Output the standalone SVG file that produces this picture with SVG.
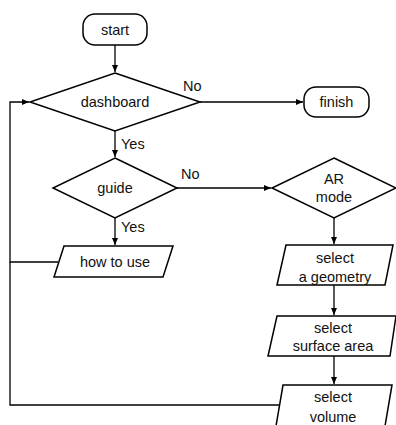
<svg xmlns="http://www.w3.org/2000/svg" width="396" height="425" viewBox="0 0 396 425">
<defs>
<marker id="ah" markerWidth="7" markerHeight="6" refX="7" refY="3" orient="auto" markerUnits="userSpaceOnUse">
<path d="M0,0 L7,3 L0,6 Z" fill="#000"/>
</marker>
<style>
.n{fill:#fff;stroke:#000;stroke-width:1.5}
.c{fill:none;stroke:#000;stroke-width:1.3}
.t{font-family:"Liberation Sans",Arial,sans-serif;font-size:14.5px;fill:#111;text-anchor:middle;dominant-baseline:central}
.l{font-family:"Liberation Sans",Arial,sans-serif;font-size:14.5px;fill:#111;dominant-baseline:central}
</style>
</defs>
<rect width="396" height="425" fill="#fff"/>
<g id="connectors">
<path class="c" d="M115,45 V72" marker-end="url(#ah)"/>
<path class="c" d="M200,102 H303" marker-end="url(#ah)"/>
<path class="c" d="M115,131 V157" marker-end="url(#ah)"/>
<path class="c" d="M177,188 H271" marker-end="url(#ah)"/>
<path class="c" d="M115,218 V245" marker-end="url(#ah)"/>
<path class="c" d="M334,218 V244" marker-end="url(#ah)"/>
<path class="c" d="M334,285 V315" marker-end="url(#ah)"/>
<path class="c" d="M334,356 V384" marker-end="url(#ah)"/>
<path class="c" d="M58,262 H10 V102 H29" marker-end="url(#ah)"/>
<path class="c" d="M280,405 H10 V262"/>
<text class="l" x="183" y="86">No</text>
<text class="l" x="121" y="144">Yes</text>
<text class="l" x="181" y="174">No</text>
<text class="l" x="121" y="227">Yes</text>
</g>
<g id="start">
<rect class="n" x="83" y="14" width="64" height="31" rx="12"/>
<text class="t" x="115" y="30">start</text>
</g>
<g id="dashboard">
<polygon class="n" points="115,73 200,102 115,131 30,102"/>
<text class="t" x="115" y="102">dashboard</text>
</g>
<g id="finish">
<rect class="n" x="304" y="87" width="65" height="30" rx="12"/>
<text class="t" x="336.5" y="102">finish</text>
</g>
<g id="guide">
<polygon class="n" points="115,158 177,188 115,218 53,188"/>
<text class="t" x="115" y="188">guide</text>
</g>
<g id="ar-mode">
<polygon class="n" points="334,158 396,188 334,218 272,188"/>
<text class="t" x="334" y="179">AR</text>
<text class="t" x="334" y="197">mode</text>
</g>
<g id="how-to-use">
<polygon class="n" points="64,246 173,246 163,277 54,277"/>
<text class="t" x="115" y="262">how to use</text>
</g>
<g id="select-geometry">
<polygon class="n" points="286,245 393,245 385,285 277,285"/>
<text class="t" x="335" y="258">select</text>
<text class="t" x="335" y="277">a geometry</text>
</g>
<g id="select-surface">
<polygon class="n" points="277,316 396,316 390,356 268,356"/>
<text class="t" x="333" y="328">select</text>
<text class="t" x="333" y="346">surface area</text>
</g>
<g id="select-volume">
<polygon class="n" points="283,385 392,385 384,432 275,432"/>
<text class="t" x="333" y="397">select</text>
<text class="t" x="333" y="417">volume</text>
</g>
</svg>
